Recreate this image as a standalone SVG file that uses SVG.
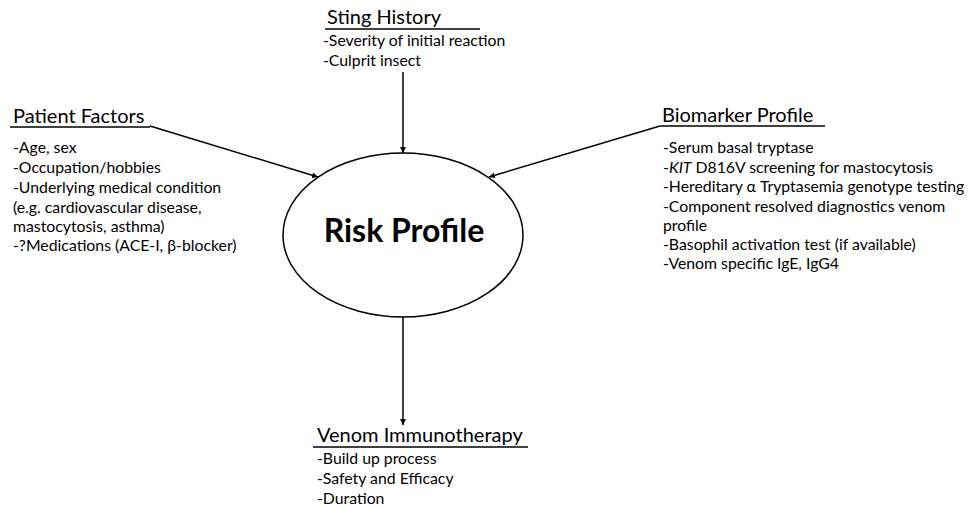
<svg xmlns="http://www.w3.org/2000/svg" width="971" height="507" viewBox="0 0 971 507">
<style>
.h{font-family:Lato,"Liberation Sans",sans-serif;font-size:20px;fill:#000}
.b{font-family:Lato,"Liberation Sans",sans-serif;font-size:15.8px;fill:#000}
.t{font-family:Lato,"Liberation Sans",sans-serif;font-size:32px;font-weight:bold;fill:#000}
.ln{stroke:#000;stroke-width:1.5;fill:none}
</style>
<defs>
<marker id="ah" viewBox="0 0 10 10" refX="10" refY="5" markerWidth="6" markerHeight="6" markerUnits="userSpaceOnUse" orient="auto">
<path d="M0,0 L10,5 L0,10 z" fill="#000"/>
</marker>
</defs>
<rect width="971" height="507" fill="#fff"/>
<g id="connectors">
<line class="ln" x1="150" y1="126" x2="318" y2="177" marker-end="url(#ah)"/>
<line class="ln" x1="660" y1="126" x2="489" y2="177" marker-end="url(#ah)"/>
<line class="ln" x1="403" y1="72" x2="403" y2="153" marker-end="url(#ah)"/>
<line class="ln" x1="403" y1="317" x2="403" y2="425" marker-end="url(#ah)"/>
</g>
<g id="risk-profile">
<ellipse class="ln" cx="403" cy="235" rx="120" ry="82"/>
<text class="t" x="404" y="242" text-anchor="middle">Risk Profile</text>
</g>
<g id="sting-history">
<text class="h" x="327" y="24">Sting History</text>
<line class="ln" x1="325" y1="29" x2="480" y2="29"/>
<text class="b" x="323" y="46">-Severity of initial reaction</text>
<text class="b" x="323" y="66">-Culprit insect</text>
</g>
<g id="patient-factors">
<text class="h" x="13" y="123">Patient Factors</text>
<line class="ln" x1="10" y1="127" x2="150" y2="127"/>
<text class="b" x="13" y="153">-Age, sex</text>
<text class="b" x="13" y="173">-Occupation/hobbies</text>
<text class="b" x="13" y="193">-Underlying medical condition</text>
<text class="b" x="13" y="213">(e.g. cardiovascular disease,</text>
<text class="b" x="13" y="232">mastocytosis, asthma)</text>
<text class="b" x="13" y="251">-?Medications (ACE-I, β-blocker)</text>
</g>
<g id="biomarker-profile">
<text class="h" x="662" y="122">Biomarker Profile</text>
<line class="ln" x1="660" y1="126" x2="825" y2="126"/>
<text class="b" x="663" y="153">-Serum basal tryptase</text>
<text class="b" x="663" y="173">-<tspan font-style="italic">KIT</tspan> D816V screening for mastocytosis</text>
<text class="b" x="663" y="192">-Hereditary α Tryptasemia genotype testing</text>
<text class="b" x="663" y="212">-Component resolved diagnostics venom</text>
<text class="b" x="663" y="231">profile</text>
<text class="b" x="663" y="250">-Basophil activation test (if available)</text>
<text class="b" x="663" y="269">-Venom specific IgE, IgG4</text>
</g>
<g id="venom-immunotherapy">
<text class="h" x="317" y="442">Venom Immunotherapy</text>
<line class="ln" x1="313" y1="447" x2="528" y2="447"/>
<text class="b" x="317" y="464">-Build up process</text>
<text class="b" x="317" y="484">-Safety and Efficacy</text>
<text class="b" x="317" y="504">-Duration</text>
</g>
</svg>
